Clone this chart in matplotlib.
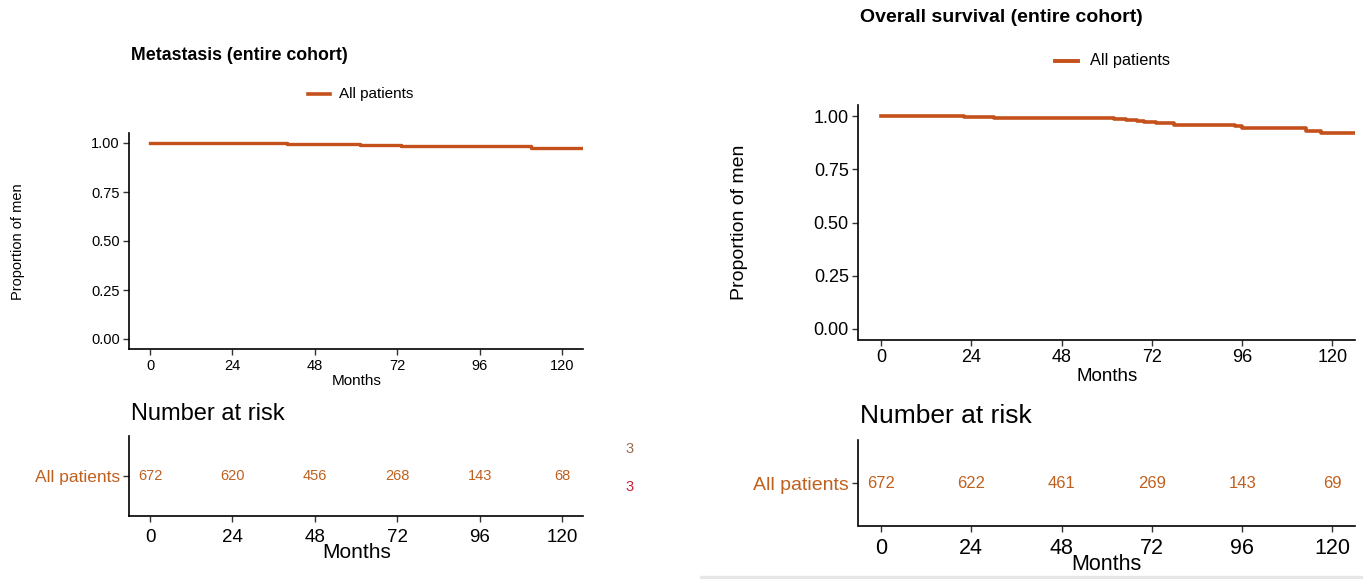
import matplotlib
matplotlib.use("Agg")
import matplotlib.pyplot as plt

plt.rcParams['font.family'] = ['Liberation Sans', 'DejaVu Sans']

W, H = 1363, 579

# data
month_ticks = [0, 24, 48, 72, 96, 120]
met_time = [0, 17, 40, 61, 73, 111, 126]
met_surv = [1.0, 0.998, 0.994, 0.992, 0.987, 0.977, 0.977]
os_time = [0, 19, 22, 25, 30, 35, 62, 65, 68, 70, 73, 78, 94, 96, 113, 117, 126]
os_surv = [1.0, 0.998, 0.996, 0.994, 0.991, 0.989, 0.986, 0.982, 0.977, 0.972,
           0.966, 0.960, 0.953, 0.946, 0.932, 0.920, 0.920]
met_risk = [672, 620, 456, 268, 143, 68]
os_risk = [672, 622, 461, 269, 143, 69]
group = "All patients"

line_col = '#C4501B'
text_col = '#C0601F'


def px_axes(fig, left, top, right, bottom):
    return fig.add_axes([left / W, 1 - bottom / H, (right - left) / W, (bottom - top) / H])


def style(ax, tick_fs, pad=3):
    for s in ['top', 'right']:
        ax.spines[s].set_visible(False)
    for s in ['left', 'bottom']:
        ax.spines[s].set_linewidth(1.2)
        ax.spines[s].set_color('black')
    ax.tick_params(length=4, width=1, color='#333333', labelsize=tick_fs, pad=pad)
    ax.set_xlim(-6, 126)
    ax.set_xticks(month_ticks)


fig = plt.figure(figsize=(W / 100, H / 100), dpi=100)

# ---------- left panel: metastasis ----------
ax1 = px_axes(fig, 129.4, 133.2, 583, 348.8)
ax1.step(met_time, met_surv, where='post', color=line_col, lw=2.4)
style(ax1, 10.5)
ax1.set_ylim(-0.05, 1.05)
ax1.set_yticks([0, 0.25, 0.5, 0.75, 1.0])
ax1.set_yticklabels(['0.00', '0.25', '0.50', '0.75', '1.00'])
ax1.set_xlabel("Months", fontsize=11, labelpad=1)
fig.text(18 / W, 1 - 242 / H, "Proportion of men", rotation=90, fontsize=10.5,
         ha='center', va='center')
fig.text(131 / W, 1 - 55 / H, "Metastasis (entire cohort)", fontsize=12.8,
         fontweight='bold', ha='left', va='center')
fig.lines.append(plt.Line2D([308 / W, 330 / W], [1 - 94 / H, 1 - 94 / H],
                            color=line_col, lw=2.6, transform=fig.transFigure))
fig.text(339 / W, 1 - 94 / H, group, fontsize=11, ha='left', va='center')

r1 = px_axes(fig, 129.4, 436, 583, 516)
style(r1, 13.5, pad=5)
r1.set_ylim(0, 2)
r1.set_yticks([1])
r1.tick_params(axis='y', pad=3)
r1.set_yticklabels([group], fontsize=12.5, color=text_col)
for m, n in zip(month_ticks, met_risk):
    r1.text(m, 1, str(n), ha='center', va='center', fontsize=10.5, color=text_col)
r1.set_xlabel("Months", fontsize=15, labelpad=-2)
fig.text(131 / W, 1 - 414 / H, "Number at risk", fontsize=17, ha='left', va='center')
# cropped labels peeking in from the neighbouring figure
fig.text(625 / W, 1 - 449 / H, "3", fontsize=10.5, color='#9A6A50', ha='left', va='center')
fig.text(625 / W, 1 - 487 / H, "3", fontsize=10.5, color='#C8203A', ha='left', va='center')

# ---------- right panel: overall survival ----------
ax2 = px_axes(fig, 858.5, 105.4, 1355, 339.6)
ax2.step(os_time, os_surv, where='post', color=line_col, lw=2.6)
style(ax2, 13)
ax2.set_ylim(-0.05, 1.05)
ax2.set_yticks([0, 0.25, 0.5, 0.75, 1.0])
ax2.set_yticklabels(['0.00', '0.25', '0.50', '0.75', '1.00'])
ax2.set_xlabel("Months", fontsize=13.5, labelpad=1)
fig.text(740 / W, 1 - 222 / H, "Proportion of men", rotation=90, fontsize=14,
         ha='center', va='center')
fig.text(860 / W, 1 - 18 / H, "Overall survival (entire cohort)", fontsize=14,
         fontweight='bold', ha='left', va='center')
fig.lines.append(plt.Line2D([1055 / W, 1078 / W], [1 - 61 / H, 1 - 61 / H],
                            color=line_col, lw=2.8, transform=fig.transFigure))
fig.text(1090 / W, 1 - 61 / H, group, fontsize=11.7, ha='left', va='center')

r2 = px_axes(fig, 858.5, 440, 1355, 526)
style(r2, 15.5, pad=5)
r2.set_ylim(0, 2)
r2.set_yticks([1])
r2.tick_params(axis='y', pad=3)
r2.set_yticklabels([group], fontsize=14, color=text_col)
for m, n in zip(month_ticks, os_risk):
    r2.text(m, 1, str(n), ha='center', va='center', fontsize=12, color=text_col)
r2.set_xlabel("Months", fontsize=15.5, labelpad=-4)
fig.text(860 / W, 1 - 416 / H, "Number at risk", fontsize=19, ha='left', va='center')

# faint edge at the bottom of the right screenshot
fig.patches.append(plt.Rectangle((700 / W, 0), 1 - 700 / W, 3 / H, color='#E6E6E6',
                                 transform=fig.transFigure, zorder=0))

fig.savefig("out.png", dpi=100)
